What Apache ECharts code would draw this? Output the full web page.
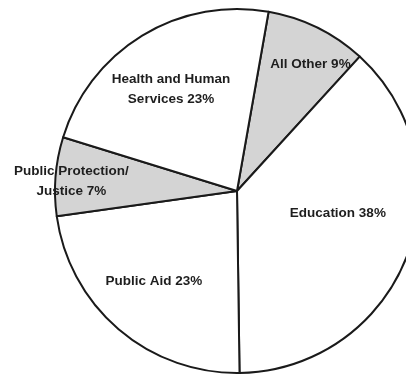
<!DOCTYPE html>
<html style="height: 100%">
<head>
<meta charset="utf-8">
<script src="https://cdn.jsdelivr.net/npm/echarts@6/dist/echarts.min.js"></script>
</head>
<body style="height: 100%; margin: 0; background: #fff">
<div id="container" style="width: 406px; height: 379px"></div>
<script>
var categories = ['All Other', 'Education', 'Public Aid', 'Public Protection/\nJustice', 'Health and Human\nServices'];
var shares = [9, 38, 23, 7, 23];
var shaded = [true, false, false, true, false];

// nudge of each label away from the default inside spot
var labelShift = [[32, -42], [13, -11], [-22, 19], [-72, -2], [-17, -21]];

var myChart = echarts.init(document.getElementById('container'));

var data = categories.map(function (c, i) {
    return {
        name: c,
        value: shares[i],
        itemStyle: {color: shaded[i] ? '#d4d4d4' : '#ffffff'}
    };
});

var option = {
    backgroundColor: '#ffffff',
    animation: false,
    series: [{
        type: 'pie',
        center: [237, 191],
        radius: 182,
        startAngle: 80,
        clockwise: true,
        data: data,
        itemStyle: {borderColor: '#1a1a1a', borderWidth: 2},
        label: {
            position: 'inside',
            color: '#1e1e1e',
            fontFamily: 'Liberation Sans, Arial, sans-serif',
            fontWeight: 'bold',
            fontSize: 13.5,
            lineHeight: 20,
            align: 'center',
            formatter: function (p) {
                return p.name + ' ' + p.value + '%';
            }
        },
        labelLine: {show: false},
        emphasis: {disabled: true},
        labelLayout: function (p) {
            var s = labelShift[p.dataIndex];
            return {dx: s[0], dy: s[1]};
        }
    }]
};

myChart.setOption(option);
</script>
</body>
</html>
